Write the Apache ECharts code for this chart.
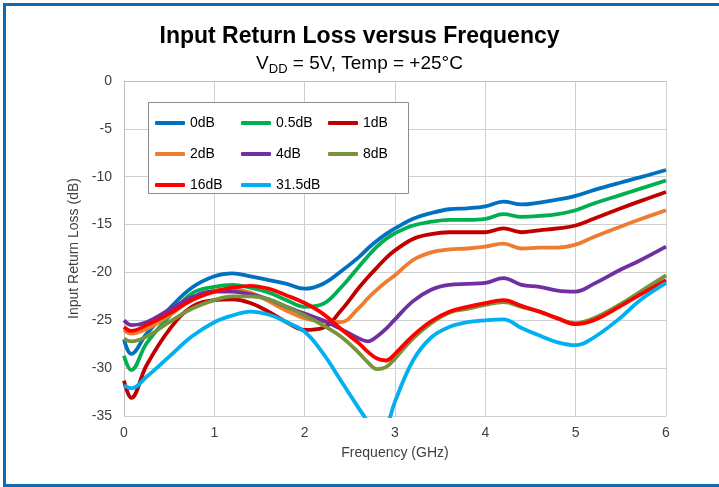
<!DOCTYPE html>
<html>
<head>
<meta charset="utf-8">
<script src="https://cdn.jsdelivr.net/npm/echarts@6/dist/echarts.min.js"></script>
<style>
  html, body { margin: 0; padding: 0; background: #fff; overflow: hidden; }
  #chart { width: 719px; height: 487px; }
</style>
</head>
<body>
<div id="chart"></div>
<script>
  // frequency points (GHz)
  const freq = [0, 0.08, 0.25, 0.5, 0.75, 1.0, 1.2, 1.4, 1.6, 1.8, 2.0, 2.2, 2.4, 2.6, 2.7, 2.8, 2.9,
    3.0, 3.2, 3.4, 3.6, 3.8, 4.0, 4.2, 4.4, 4.6, 4.8, 5.0, 5.2, 5.5, 5.7, 6.0];

  // input return loss (dB) per attenuation state
  const rl0 = [-27.0, -28.5, -26.4, -23.8, -21.6, -20.4, -20.1, -20.4, -20.8, -21.2, -21.7, -21.2, -19.9, -18.4, -17.5, -16.7, -16.0,
    -15.4, -14.4, -13.8, -13.4, -13.3, -13.1, -12.6, -12.9, -12.7, -12.4, -12.0, -11.4, -10.6, -10.1, -9.3];
  const rl05 = [-28.7, -30.2, -27.4, -24.6, -22.2, -21.5, -21.3, -21.6, -22.1, -22.9, -23.6, -23.3, -21.6, -19.4, -18.3, -17.3, -16.5,
    -15.9, -15.1, -14.7, -14.5, -14.5, -14.4, -13.9, -14.2, -14.1, -13.9, -13.5, -12.8, -11.9, -11.3, -10.4];
  const rl1 = [-31.3, -33.1, -29.7, -26.0, -23.6, -22.9, -22.8, -23.2, -24.1, -25.2, -26.0, -25.8, -24.0, -21.6, -20.5, -19.5, -18.5,
    -17.7, -16.5, -16.0, -15.8, -15.8, -15.8, -15.4, -15.8, -15.6, -15.4, -15.1, -14.4, -13.3, -12.6, -11.6];
  const rl2 = [-26.0, -26.4, -25.9, -24.5, -22.8, -21.9, -21.8, -22.1, -23.0, -24.0, -24.8, -25.1, -25.2, -23.7, -22.7, -21.8, -21.0,
    -20.3, -18.7, -17.9, -17.6, -17.5, -17.3, -17.0, -17.5, -17.4, -17.4, -17.1, -16.3, -15.2, -14.5, -13.5];
  const rl4 = [-25.0, -25.5, -25.2, -23.9, -22.6, -22.0, -22.0, -22.3, -22.8, -23.6, -24.3, -25.0, -25.9, -26.9, -27.2, -26.7, -25.9,
    -24.9, -23.0, -21.8, -21.3, -21.2, -21.1, -20.6, -21.3, -21.5, -21.9, -22.0, -21.2, -19.7, -18.8, -17.3];
  const rl8 = [-26.9, -27.2, -26.7, -25.2, -23.8, -22.9, -22.5, -22.5, -22.8, -23.6, -24.5, -25.5, -26.7, -28.4, -29.4, -30.1, -29.9,
    -29.0, -26.9, -25.3, -24.2, -23.8, -23.4, -23.1, -23.6, -24.1, -24.8, -25.3, -24.8, -23.3, -22.1, -20.3];
  const rl16 = [-25.7, -26.1, -25.5, -24.3, -22.9, -22.0, -21.6, -21.4, -21.7, -22.4, -23.2, -24.3, -25.9, -27.4, -28.3, -29.0, -29.2,
    -28.5, -26.6, -25.1, -24.1, -23.6, -23.2, -22.9, -23.5, -24.1, -24.8, -25.4, -25.0, -23.5, -22.4, -20.8];
  const rl315 = [-31.8, -32.1, -30.9, -28.8, -26.7, -25.2, -24.5, -24.1, -24.4, -25.2, -26.2, -28.4, -31.3, -34.2, -35.6, -37.0, -36.2,
    -33.5, -29.2, -26.8, -25.7, -25.2, -25.0, -24.9, -25.8, -26.6, -27.3, -27.6, -26.8, -24.7, -23.0, -21.1];

  const names = ['0dB', '0.5dB', '1dB', '2dB', '4dB', '8dB', '16dB', '31.5dB'];
  const values = [rl0, rl05, rl1, rl2, rl4, rl8, rl16, rl315];
  const colors = ['#0070C0', '#00B050', '#C00000', '#ED7D31', '#7030A0', '#77933C', '#FF0000', '#00B0F0'];

  // legend columns, as laid out in the box
  const legendCols = [['0dB', '2dB', '16dB'], ['0.5dB', '4dB', '31.5dB'], ['1dB', '8dB']];
  const legendLeft = [150, 236, 323];

  const font = 'Liberation Sans, Arial, sans-serif';
  const chart = echarts.init(document.getElementById('chart'), null, { renderer: 'canvas' });

  const frameStyle = { stroke: '#0E6BB5', lineWidth: 3 };

  const option = {
    animation: false,
    backgroundColor: '#fff',
    color: colors,
    title: [{
      text: 'Input Return Loss versus Frequency',
      left: 'center',
      top: 20,
      textStyle: { fontFamily: font, fontSize: 23, fontWeight: 'bold', color: '#000' }
    }, {
      text: '{a|V}{b|DD}{a| = 5V, Temp = +25°C}',
      left: 'center',
      top: 48,
      textStyle: {
        fontWeight: 'normal',
        rich: {
          a: { fontFamily: font, fontSize: 19, fontWeight: 'normal', color: '#000', lineHeight: 22 },
          b: { fontFamily: font, fontSize: 13, fontWeight: 'normal', color: '#000', lineHeight: 22, padding: [10, 0, 0, 0] }
        }
      }
    }],
    legend: legendCols.map((col, i) => ({
      data: col,
      orient: 'vertical',
      left: legendLeft[i],
      top: 110,
      itemWidth: 30,
      itemHeight: 4,
      itemGap: 15,
      icon: 'roundRect',
      selectedMode: false,
      textStyle: { fontFamily: font, fontSize: 14, color: '#000', lineHeight: 16 }
    })),
    graphic: [{
      type: 'rect',
      z: 3,
      shape: { x: 148.5, y: 102.5, width: 260, height: 91 },
      style: { fill: '#fff', stroke: '#8c8c8c', lineWidth: 1 }
    },
    // outer frame: left, top and bottom edges only
    { type: 'line', z: 10, silent: true, shape: { x1: 3, y1: 4.5, x2: 719, y2: 4.5 }, style: frameStyle },
    { type: 'line', z: 10, silent: true, shape: { x1: 4.5, y1: 3, x2: 4.5, y2: 487 }, style: frameStyle },
    { type: 'line', z: 10, silent: true, shape: { x1: 3, y1: 485.5, x2: 719, y2: 485.5 }, style: frameStyle }
    ],
    grid: { left: 124, top: 81, right: 53, bottom: 71 },
    xAxis: {
      type: 'value',
      min: 0,
      max: 6,
      interval: 1,
      name: 'Frequency (GHz)',
      nameLocation: 'middle',
      nameGap: 30,
      nameTextStyle: { fontFamily: font, fontSize: 14, color: '#404040' },
      axisLine: { lineStyle: { color: '#bfbfbf' } },
      axisTick: { show: false },
      axisLabel: { fontFamily: font, fontSize: 14, color: '#404040', margin: 10 },
      splitLine: { lineStyle: { color: '#cfcfcf' } }
    },
    yAxis: {
      type: 'value',
      min: -35,
      max: 0,
      interval: 5,
      name: 'Input Return Loss (dB)',
      nameLocation: 'middle',
      nameGap: 38,
      nameTextStyle: { fontFamily: font, fontSize: 14, color: '#404040' },
      axisLine: { show: true, lineStyle: { color: '#bfbfbf' } },
      axisTick: { show: false },
      axisLabel: { fontFamily: font, fontSize: 14, color: '#404040', margin: 12 },
      splitLine: { lineStyle: { color: '#cfcfcf' } }
    },
    series: names.map((n, i) => ({
      name: n,
      type: 'line',
      smooth: 0.4,
      symbol: 'none',
      clip: true,
      lineStyle: { width: 3.8, color: colors[i] },
      data: freq.map((f, j) => [f, values[i][j]])
    }))
  };

  chart.setOption(option);
</script>
</body>
</html>
